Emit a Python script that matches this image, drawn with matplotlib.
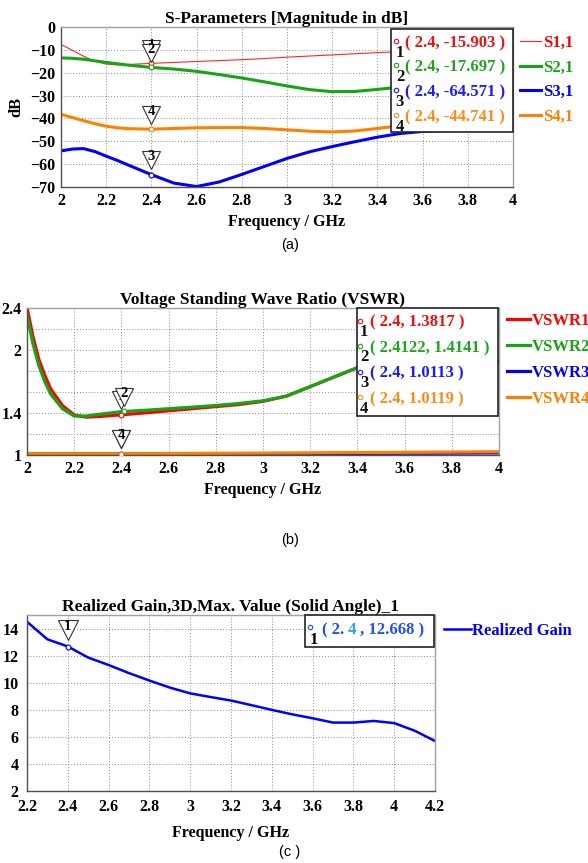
import matplotlib
matplotlib.use('Agg')
import matplotlib.pyplot as plt
from matplotlib.transforms import offset_copy
from matplotlib.patches import Rectangle

SERIF = 'Liberation Serif'
SANS = 'Liberation Sans'
plt.rcParams['font.family'] = [SERIF, 'DejaVu Sans']
plt.rcParams['font.weight'] = 'bold'
plt.rcParams['axes.titleweight'] = 'bold'
plt.rcParams['axes.labelweight'] = 'bold'

# ---------------- data (a): S-parameters ----------------
freq_a = [2.0, 2.05, 2.1, 2.15, 2.2, 2.25, 2.3, 2.4, 2.5, 2.6, 2.7, 2.8, 2.9,
          3.0, 3.1, 3.2, 3.3, 3.4, 3.5, 3.6, 3.7, 3.8, 3.9, 4.0]
s11 = [-7.6, -10.2, -12.8, -15.0, -16.2, -16.6, -16.4, -15.9, -15.5, -15.1, -14.7, -14.3, -13.8,
       -13.2, -12.7, -12.2, -11.7, -11.2, -10.8, -10.5, -10.2, -10.0, -9.9, -9.8]
s21 = [-13.5, -13.7, -14.1, -14.8, -15.5, -16.1, -16.7, -17.7, -18.4, -19.4, -20.8, -22.3, -24.0,
       -25.8, -27.4, -28.3, -28.2, -27.3, -26.3, -26.5, -27.5, -29.0, -30.5, -31.8]
s31 = [-54.2, -53.4, -53.2, -54.5, -56.5, -58.4, -60.5, -64.6, -68.3, -69.8, -67.8, -64.5, -61.0,
       -57.5, -54.6, -52.3, -50.2, -48.2, -46.6, -45.7, -45.2, -44.9, -44.6, -44.3]
s41 = [-38.2, -39.6, -41.0, -42.3, -43.4, -44.1, -44.5, -44.7, -44.4, -44.1, -44.0, -44.0, -44.4,
       -45.0, -45.6, -45.9, -45.5, -44.4, -43.2, -42.3, -41.7, -41.3, -41.0, -40.8]
labels_a = ['S1,1', 'S2,1', 'S3,1', 'S4,1']
mark_freq_a = [2.4, 2.4, 2.4, 2.4]
mark_val_a = [-15.903, -17.697, -64.571, -44.741]
mark_txt_a = ['( 2.4, -15.903 )', '( 2.4, -17.697 )', '( 2.4, -64.571 )', '( 2.4, -44.741 )']
xticks_a = [2, 2.2, 2.4, 2.6, 2.8, 3, 3.2, 3.4, 3.6, 3.8, 4]
xticklabels_a = ['2', '2.2', '2.4', '2.6', '2.8', '3', '3.2', '3.4', '3.6', '3.8', '4']
yticks_a = [0, -10, -20, -30, -40, -50, -60, -70]

# ---------------- data (b): VSWR ----------------
freq_b = [2.0, 2.025, 2.05, 2.075, 2.1, 2.15, 2.2, 2.25, 2.3, 2.4, 2.5, 2.6, 2.7, 2.8, 2.9,
          3.0, 3.1, 3.2, 3.3, 3.4, 3.5, 3.6, 3.7, 3.8, 3.9, 4.0]
vswr1 = [2.40, 2.13, 1.91, 1.76, 1.63, 1.47, 1.38, 1.36, 1.365, 1.382, 1.40, 1.42, 1.44, 1.46, 1.48,
         1.51, 1.56, 1.65, 1.74, 1.83, 1.89, 1.92, 1.93, 1.92, 1.91, 1.90]
vswr2 = [2.33, 2.06, 1.85, 1.70, 1.58, 1.44, 1.37, 1.37, 1.385, 1.412, 1.425, 1.44, 1.455, 1.47, 1.49,
         1.515, 1.56, 1.65, 1.74, 1.83, 1.88, 1.91, 1.92, 1.91, 1.90, 1.885]
vswr3 = [1.010, 1.010, 1.010, 1.010, 1.010, 1.011, 1.011, 1.011, 1.011, 1.011, 1.011, 1.012, 1.012, 1.012, 1.013,
         1.013, 1.014, 1.014, 1.015, 1.015, 1.016, 1.017, 1.017, 1.018, 1.019, 1.020]
vswr4 = [1.012, 1.012, 1.012, 1.012, 1.012, 1.012, 1.012, 1.012, 1.012, 1.012, 1.013, 1.014, 1.015, 1.016, 1.017,
         1.018, 1.019, 1.020, 1.022, 1.023, 1.024, 1.026, 1.027, 1.028, 1.030, 1.031]
labels_b = ['VSWR1', 'VSWR2', 'VSWR3', 'VSWR4']
mark_freq_b = [2.4, 2.4122, 2.4, 2.4]
mark_val_b = [1.3817, 1.4141, 1.0113, 1.0119]
mark_txt_b = ['( 2.4, 1.3817 )', '( 2.4122, 1.4141 )', '( 2.4, 1.0113 )', '( 2.4, 1.0119 )']
xticks_b = xticks_a
xticklabels_b = xticklabels_a
ygrid_b = [1.0, 1.2, 1.4, 1.6, 1.8, 2.0, 2.2, 2.4]
yticklabels_b = ['1', '', '1.4', '', '', '2', '', '2.4']

# ---------------- data (c): Realized gain ----------------
freq_c = [2.2, 2.3, 2.4, 2.5, 2.6, 2.7, 2.8, 2.9, 3.0, 3.1, 3.2, 3.3, 3.4, 3.5, 3.6, 3.7, 3.8, 3.9, 4.0, 4.1, 4.2]
gain = [14.5, 13.2, 12.67, 11.85, 11.3, 10.7, 10.15, 9.63, 9.2, 8.93, 8.67, 8.33, 7.98, 7.65, 7.36,
        7.04, 7.04, 7.16, 7.0, 6.44, 5.68]
mark_freq_c = 2.4
mark_val_c = 12.668
xticks_c = [2.2, 2.4, 2.6, 2.8, 3, 3.2, 3.4, 3.6, 3.8, 4, 4.2]
xticklabels_c = ['2.2', '2.4', '2.6', '2.8', '3', '3.2', '3.4', '3.6', '3.8', '4', '4.2']
yticks_c = [2, 4, 6, 8, 10, 12, 14]

RED, GREEN, BLUE, ORANGE = '#ff0000', '#16a516', '#0000ff', '#ff8000'
TXT = {'r': '#ee1111', 'g': '#1ea51e', 'b': '#1a1aff', 'o': '#ff8a1a'}

W, H = 588, 863
fig = plt.figure(figsize=(W / 100, H / 100), dpi=100)

TICK_FS = 11.5
LAB_FS = 11.5
TITLE_FS = 12.5
BOX_FS = 12
LEG_FS = 12


def axes_px(l, t, r, b):
    return fig.add_axes([l / W, 1 - b / H, (r - l) / W, (b - t) / H])


def style(ax, pad=4):
    ax.grid(True, color='#8a8a8a', linestyle=(0, (1, 2)), linewidth=0.7)
    ax.set_axisbelow(True)
    ax.tick_params(length=0, labelsize=TICK_FS, pad=pad)
    for k, s in ax.spines.items():
        s.set_color('#a0a0a0')
        s.set_linewidth(1.0)
    ax.spines['left'].set_color('#505050')
    ax.spines['bottom'].set_color('#505050')


def draw_marker(ax, x, y, num, color, z, dy=10.5, ms=12.5):
    tr = offset_copy(ax.transData, fig=fig, x=0, y=dy, units='points')
    ax.plot([x], [y], marker='v', ms=ms, mfc='white', mec='#333333', mew=0.8,
            transform=tr, zorder=z, clip_on=False)
    ax.annotate(str(num), (x, y), xytext=(0, dy + 2.5), textcoords='offset points',
                ha='center', va='center', fontsize=10.5, zorder=z + 0.1, annotation_clip=False)
    ax.plot([x], [y], marker='o', ms=3.5, mfc='white', mec=color, mew=0.8, zorder=z + 0.2)


def marker_box(ax, x0, x1, y0, y1, rows, circ_x, num_x, text_x, colors, fs=BOX_FS, num_dy=0.06):
    ax.add_patch(Rectangle((x0, y0), x1 - x0, y1 - y0, transform=ax.transAxes,
                           facecolor='white', edgecolor='#222222', lw=1.2, zorder=20, clip_on=False))
    for i, (yy, txt) in enumerate(rows):
        c = colors[i]
        ax.plot([circ_x], [yy + 0.015], marker='o', ms=3.2, mfc='white', mec=c, mew=0.8,
                transform=ax.transAxes, zorder=21, clip_on=False)
        ax.text(num_x, yy - num_dy, str(i + 1), transform=ax.transAxes, fontsize=12,
                ha='center', va='center', color='#111111', zorder=21)
        ax.text(text_x, yy, txt, transform=ax.transAxes, fontsize=fs, ha='left', va='center',
                color=c, zorder=21)


# ======================= (a) =======================
ax = axes_px(61, 27, 513, 187)
style(ax)
la = []
la.append(ax.plot(freq_a, s11, color=RED, lw=0.8, alpha=0.85)[0])
la.append(ax.plot(freq_a, s21, color=GREEN, lw=2.2)[0])
la.append(ax.plot(freq_a, s31, color=BLUE, lw=2.2)[0])
la.append(ax.plot(freq_a, s41, color=ORANGE, lw=2.2)[0])
ax.set_xlim(2, 4)
ax.set_ylim(-70, 0)
ax.set_xticks(xticks_a, xticklabels_a)
ax.set_yticks(yticks_a)
ax.set_xlabel('Frequency / GHz', fontsize=LAB_FS, labelpad=4)
ax.set_ylabel('dB', fontsize=12, labelpad=4)
ax.set_title('S-Parameters [Magnitude in dB]', fontsize=TITLE_FS, pad=3)
cols_a = [RED, GREEN, BLUE, ORANGE]
order_a = [0, 1, 3, 2]
for k, i in enumerate(order_a):
    draw_marker(ax, mark_freq_a[i], mark_val_a[i], i + 1, cols_a[i], z=5 + k)
marker_box(ax, 0.730, 1.0, 0.344, 0.9875,
           [(0.90, mark_txt_a[0]), (0.75, mark_txt_a[1]), (0.594, mark_txt_a[2]), (0.438, mark_txt_a[3])],
           0.742, 0.750, 0.761, [TXT['r'], TXT['g'], TXT['b'], TXT['o']])
leg = ax.legend(la, labels_a, loc='upper left', bbox_to_anchor=(1.015, 0.95), frameon=False,
                handlelength=1.3, handletextpad=0.08, labelspacing=0.52, borderaxespad=0, borderpad=0,
                prop=dict(family=SERIF, weight='bold', size=LEG_FS), labelcolor='linecolor')
fig.text(290 / W, 1 - 245 / H, '(a)', family=SANS, weight='normal', fontsize=10.5, ha='center', va='center')

# ======================= (b) =======================
ax = axes_px(27, 307.7, 499, 455)
style(ax)
lb = []
lb.append(ax.plot(freq_b, vswr1, color=RED, lw=2.3)[0])
lb.append(ax.plot(freq_b, vswr2, color=GREEN, lw=2.3)[0])
lb.append(ax.plot(freq_b, vswr3, color=BLUE, lw=2.3)[0])
lb.append(ax.plot(freq_b, vswr4, color=ORANGE, lw=2.3)[0])
ax.set_xlim(2, 4)
ax.set_ylim(1, 2.4)
ax.set_xticks(xticks_b, xticklabels_b)
ax.set_yticks(ygrid_b, yticklabels_b)
ax.set_xlabel('Frequency / GHz', fontsize=LAB_FS, labelpad=4)
ax.set_title('Voltage Standing Wave Ratio (VSWR)', fontsize=TITLE_FS, pad=3)
cols_b = [RED, GREEN, BLUE, ORANGE]
for k, i in enumerate([2, 3, 0, 1]):
    draw_marker(ax, mark_freq_b[i], mark_val_b[i], i + 1, cols_b[i], z=5 + k)
marker_box(ax, 0.6985, 0.9972, 0.267, 1.0,
           [(0.897, mark_txt_b[0]), (0.727, mark_txt_b[1]), (0.551, mark_txt_b[2]), (0.377, mark_txt_b[3])],
           0.7055, 0.714, 0.7267, [TXT['r'], TXT['g'], TXT['b'], TXT['o']], num_dy=0.065)
ax.legend(lb, labels_b, loc='upper left', bbox_to_anchor=(1.016, 0.965), frameon=False,
          handlelength=1.4, handletextpad=0.1, labelspacing=0.6, borderaxespad=0, borderpad=0,
          prop=dict(family=SERIF, weight='bold', size=LEG_FS), labelcolor='linecolor')
fig.text(290 / W, 1 - 540 / H, '(b)', family=SANS, weight='normal', fontsize=10.5, ha='center', va='center')

# ======================= (c) =======================
ax = axes_px(27, 615, 435, 790.7)
style(ax, pad=6)
lc = ax.plot(freq_c, gain, color=BLUE, lw=1.8)[0]
ax.set_xlim(2.2, 4.2)
ax.set_ylim(2, 15)
ax.set_xticks(xticks_c, xticklabels_c)
ax.set_yticks(yticks_c)
ax.set_xlabel('Frequency / GHz', fontsize=LAB_FS, labelpad=7)
ax.set_title('Realized Gain,3D,Max. Value (Solid Angle)_1', fontsize=TITLE_FS, pad=3)
draw_marker(ax, mark_freq_c, mark_val_c, 1, BLUE, z=6, dy=12, ms=14)
ax.add_patch(Rectangle((0.681, 0.818), 0.9975 - 0.681, 1.0 - 0.818, transform=ax.transAxes,
                       facecolor='white', edgecolor='#222222', lw=1.2, zorder=20, clip_on=False))
ax.plot([0.694], [0.93], marker='o', ms=3.2, mfc='white', mec='#1f4fff', mew=0.8,
        transform=ax.transAxes, zorder=21, clip_on=False)
ax.text(0.702, 0.86, '1', transform=ax.transAxes, fontsize=12, ha='center', va='center', zorder=21)
t1 = ax.text(0.722, 0.912, '( 2.', transform=ax.transAxes, fontsize=BOX_FS, ha='left', va='center',
             color='#1f4fff', zorder=21)
t2 = ax.annotate(' %s' % '4', xy=(1, 0), xycoords=t1, va='bottom', ha='left', fontsize=BOX_FS,
                 color='#2a9dff', zorder=21)
t3 = ax.annotate(' , %.3f )' % mark_val_c, xy=(1, 0), xycoords=t2, va='bottom', ha='left', fontsize=BOX_FS,
                 color='#1f4fff', zorder=21)
ax.legend([lc], ['Realized Gain'], loc='upper left', bbox_to_anchor=(1.022, 0.957), frameon=False,
          handlelength=1.6, handletextpad=0.1, borderaxespad=0, borderpad=0,
          prop=dict(family=SERIF, weight='bold', size=LEG_FS), labelcolor='linecolor')
fig.text(290 / W, 1 - 852 / H, '(c )', family=SANS, weight='normal', fontsize=10.5, ha='center', va='center')

fig.savefig('out.png', dpi=100)
